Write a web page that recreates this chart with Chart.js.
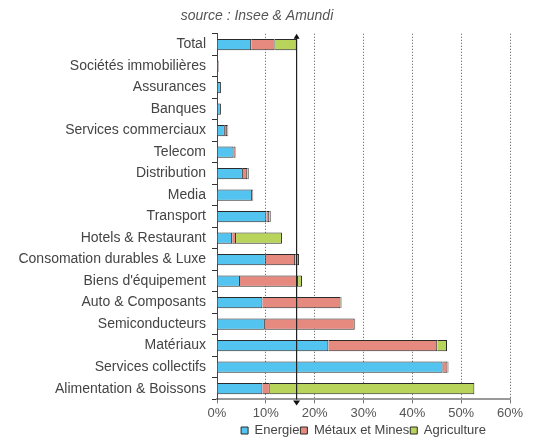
<!DOCTYPE html>
<html>
<head>
<meta charset="utf-8">
<script src="https://cdn.jsdelivr.net/npm/chart.js@4/dist/chart.umd.min.js"></script>
<style>
  html, body { margin: 0; padding: 0; background: #fff; }
  #wrap { width: 539px; height: 437px; }
</style>
</head>
<body>
<div id="wrap"><canvas id="c" width="539" height="437"></canvas></div>
<script>
const categories = [
  "Total", "Sociétés immobilières", "Assurances", "Banques", "Services commerciaux",
  "Telecom", "Distribution", "Media", "Transport", "Hotels & Restaurant",
  "Consomation durables & Luxe", "Biens d'équipement", "Auto & Composants",
  "Semiconducteurs", "Matériaux", "Services collectifs", "Alimentation & Boissons"
];
const energie     = [7.0, 0.3, 0.8, 0.8, 1.6, 3.4, 5.3, 7.2, 10.1, 3.1, 10.0, 4.7, 9.3, 9.8, 22.8, 46.2, 9.3];
const metaux      = [4.8, 0.1, 0.0, 0.0, 0.5, 0.4, 0.9, 0.2, 0.6, 0.8, 6.0, 11.9, 16.0, 18.4, 22.3, 1.0, 1.5];
const agriculture = [4.5, 0.0, 0.0, 0.0, 0.2, 0.0, 0.3, 0.0, 0.3, 9.4, 0.8, 0.8, 0.2, 0.1, 2.0, 0.2, 41.9];
const xTicks = [0, 10, 20, 30, 40, 50, 60];
const seriesNames = ["Energie", "Métaux et Mines", "Agriculture"];
const titleText = "source : Insee & Amundi";

const totalValue = energie[0] + metaux[0] + agriculture[0];

const refLine = {
  id: 'refLine',
  afterDatasetsDraw(chart) {
    const x = chart.scales.x.getPixelForValue(totalValue);
    const { top, bottom } = chart.chartArea;
    const ctx = chart.ctx;
    ctx.save();
    ctx.strokeStyle = '#222';
    ctx.fillStyle = '#111';
    ctx.lineWidth = 1.2;
    ctx.beginPath();
    ctx.moveTo(x, top + 3);
    ctx.lineTo(x, bottom);
    ctx.stroke();
    ctx.beginPath();
    ctx.moveTo(x, top);
    ctx.lineTo(x - 3, top + 5);
    ctx.lineTo(x + 3, top + 5);
    ctx.closePath();
    ctx.fill();
    ctx.beginPath();
    ctx.moveTo(x - 3.5, bottom + 1);
    ctx.lineTo(x + 3.5, bottom + 1);
    ctx.lineTo(x, bottom + 6);
    ctx.closePath();
    ctx.fill();
    ctx.restore();
  }
};

const colors = ['#52C4EF', '#E68A80', '#B9D45B'];
const border = '#2a2a2a';
const FONT = 'Liberation Sans, Arial, sans-serif';

new Chart(document.getElementById('c'), {
  type: 'bar',
  data: {
    labels: categories,
    datasets: [
      { label: seriesNames[0], data: energie, backgroundColor: colors[0], borderColor: border, borderWidth: 1, categoryPercentage: 1, barPercentage: 0.52 },
      { label: seriesNames[1], data: metaux, backgroundColor: colors[1], borderColor: border, borderWidth: 1, categoryPercentage: 1, barPercentage: 0.52 },
      { label: seriesNames[2], data: agriculture, backgroundColor: colors[2], borderColor: border, borderWidth: 1, categoryPercentage: 1, barPercentage: 0.52 }
    ]
  },
  options: {
    indexAxis: 'y',
    responsive: false,
    animation: false,
    layout: { padding: { left: 4, right: 29, top: 0, bottom: -10 } },
    plugins: {
      title: {
        display: true,
        text: titleText,
        color: '#555',
        font: { family: FONT, size: 14, style: 'italic', weight: 'normal' },
        padding: { top: 8, bottom: 9 },
        align: 'center'
      },
      legend: {
        position: 'bottom',
        fullSize: false,
        labels: {
          boxWidth: 7,
          boxHeight: 7,
          padding: 1,
          color: '#444',
          font: { family: FONT, size: 13 }
        }
      },
      tooltip: { enabled: false }
    },
    scales: {
      x: {
        stacked: true,
        min: 0,
        max: 60,
        afterBuildTicks(scale) { scale.ticks = xTicks.map(v => ({ value: v })); },
        ticks: {
          callback: v => v + '%',
          color: '#555',
          font: { family: FONT, size: 13 },
          padding: 2
        },
        grid: {
          color: '#555',
          lineWidth: 1,
          drawTicks: true,
          tickLength: 4,
          tickColor: '#777',
          tickBorderDash: []
        },
        border: { display: true, color: '#999', width: 2, dash: [1, 2] }
      },
      y: {
        stacked: true,
        afterFit(scale) { scale.width = 213; },
        ticks: {
          color: '#444',
          font: { family: FONT, size: 14 },
          padding: 6,
          autoSkip: false
        },
        grid: {
          offset: true,
          drawOnChartArea: false,
          drawTicks: true,
          tickLength: 5,
          tickColor: '#333'
        },
        border: { display: true, color: '#444', width: 1 }
      }
    }
  },
  plugins: [refLine]
});
</script>
</body>
</html>
